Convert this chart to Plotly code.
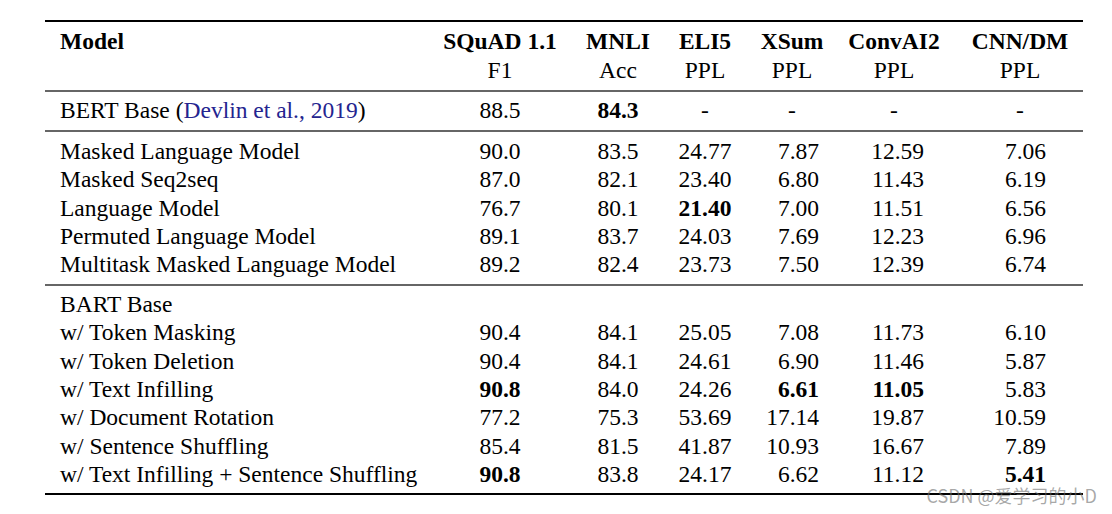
import plotly.graph_objects as go

# ---------------- data ----------------
header_top = ["Model", "SQuAD 1.1", "MNLI", "ELI5", "XSum", "ConvAI2", "CNN/DM"]
header_sub = ["", "F1", "Acc", "PPL", "PPL", "PPL", "PPL"]

models = [
    "BERT Base",
    "Masked Language Model",
    "Masked Seq2seq",
    "Language Model",
    "Permuted Language Model",
    "Multitask Masked Language Model",
    "BART Base",
    "w/ Token Masking",
    "w/ Token Deletion",
    "w/ Text Infilling",
    "w/ Document Rotation",
    "w/ Sentence Shuffling",
    "w/ Text Infilling + Sentence Shuffling",
]
citation = "Devlin et al., 2019"

squad = [88.5, 90.0, 87.0, 76.7, 89.1, 89.2, None, 90.4, 90.4, 90.8, 77.2, 85.4, 90.8]
mnli = [84.3, 83.5, 82.1, 80.1, 83.7, 82.4, None, 84.1, 84.1, 84.0, 75.3, 81.5, 83.8]
eli5 = [None, 24.77, 23.40, 21.40, 24.03, 23.73, None, 25.05, 24.61, 24.26, 53.69, 41.87, 24.17]
xsum = [None, 7.87, 6.80, 7.00, 7.69, 7.50, None, 7.08, 6.90, 6.61, 17.14, 10.93, 6.62]
convai2 = [None, 12.59, 11.43, 11.51, 12.23, 12.39, None, 11.73, 11.46, 11.05, 19.87, 16.67, 11.12]
cnndm = [None, 7.06, 6.19, 6.56, 6.96, 6.74, None, 6.10, 5.87, 5.83, 10.59, 7.89, 5.41]

# best results (bold): column -> row indices
bold_squad = [9, 12]
bold_mnli = [0]
bold_eli5 = [3]
bold_xsum = [9]
bold_convai2 = [9]
bold_cnndm = [12]

watermark = "CSDN @爱学习的小D"

# ---------------- layout constants ----------------
W, H = 1112, 514
PAGE_MARGIN = 8  # default <body> margin of the html page
FONT = "Liberation Serif, Times New Roman, serif"
FS = 23.5
BLUE = "#24248f"
TDY = 2  # small vertical nudge for text

# row y positions (pixels)
Y_HEAD1, Y_HEAD2 = 41 + TDY, 70 + TDY
PITCH = 28.4
row_y = [110 + TDY] + [151 + TDY + PITCH * i for i in range(5)] + [304 + TDY + PITCH * i for i in range(7)]
rules = [(21, 2.0, "#000"), (91, 1.3, "#333"), (131, 1.3, "#333"), (285, 1.3, "#333"), (494, 2.0, "#000")]
RULE_X0, RULE_X1 = 45, 1083

MODEL_X = 60
col_center = [500, 618, 705, 792, 894, 1020]
value_anchor = [
    (500, "middle center"),
    (618, "middle center"),
    (705, "middle center"),
    (819, "middle left"),
    (924, "middle left"),
    (1046, "middle left"),
]
columns = [squad, mnli, eli5, xsum, convai2, cnndm]
decimals = [1, 1, 2, 2, 2, 2]
bolds = [bold_squad, bold_mnli, bold_eli5, bold_xsum, bold_convai2, bold_cnndm]

fig = go.Figure()

# rules (drawn first so the watermark sits on top)
for y, w, col in rules:
    fig.add_trace(go.Scatter(
        x=[RULE_X0, RULE_X1], y=[y, y], mode="lines", line=dict(color=col, width=w),
        hoverinfo="skip", showlegend=False))

# header row
fig.add_trace(go.Scatter(
    x=[MODEL_X], y=[Y_HEAD1], mode="text", text=["<b>" + header_top[0] + "</b>"],
    textposition="middle right", textfont=dict(family=FONT, size=FS, color="#000"),
    hoverinfo="skip", showlegend=False))
fig.add_trace(go.Scatter(
    x=col_center, y=[Y_HEAD1] * len(col_center), mode="text",
    text=["<b>" + t + "</b>" for t in header_top[1:]],
    textposition="middle center", textfont=dict(family=FONT, size=FS, color="#000"),
    hoverinfo="skip", showlegend=False))
fig.add_trace(go.Scatter(
    x=col_center, y=[Y_HEAD2] * len(col_center), mode="text",
    text=header_sub[1:],
    textposition="middle center", textfont=dict(family=FONT, size=FS, color="#000"),
    hoverinfo="skip", showlegend=False))

# model names
model_text = []
for i, m in enumerate(models):
    if i == 0:
        model_text.append(m + ' (<span style="color:%s">%s</span>)' % (BLUE, citation))
    else:
        model_text.append(m)
fig.add_trace(go.Scatter(
    x=[MODEL_X] * len(models), y=row_y, mode="text", text=model_text,
    textposition="middle right", textfont=dict(family=FONT, size=FS, color="#000"),
    hoverinfo="skip", showlegend=False))

# values
for c, vals in enumerate(columns):
    xs, ys, ts = [], [], []
    dx, dy, dt = [], [], []
    for r, v in enumerate(vals):
        if v is None:
            if r == 0:
                dx.append(col_center[c]); dy.append(row_y[r]); dt.append("-")
            continue
        s = f"{v:.{decimals[c]}f}"
        if r in bolds[c]:
            s = "<b>" + s + "</b>"
        xs.append(value_anchor[c][0]); ys.append(row_y[r]); ts.append(s)
    fig.add_trace(go.Scatter(
        x=xs, y=ys, mode="text", text=ts, textposition=value_anchor[c][1],
        textfont=dict(family=FONT, size=FS, color="#000"),
        hoverinfo="skip", showlegend=False))
    if dx:
        fig.add_trace(go.Scatter(
            x=dx, y=dy, mode="text", text=dt, textposition="middle center",
            textfont=dict(family=FONT, size=FS, color="#000"),
            hoverinfo="skip", showlegend=False))

# watermark
fig.add_trace(go.Scatter(
    x=[1097], y=[498], mode="text", text=[watermark], textposition="middle left",
    textfont=dict(family="Noto Sans CJK SC", size=18, color="rgba(110,110,110,0.6)"),
    hoverinfo="skip", showlegend=False))

fig.update_layout(
    width=W, height=H, margin=dict(l=0, r=0, t=0, b=0),
    paper_bgcolor="white", plot_bgcolor="white",
    xaxis=dict(range=[PAGE_MARGIN, W + PAGE_MARGIN], visible=False, fixedrange=True),
    yaxis=dict(range=[H + PAGE_MARGIN, PAGE_MARGIN], visible=False, fixedrange=True),
)
fig.write_html("out.html")
